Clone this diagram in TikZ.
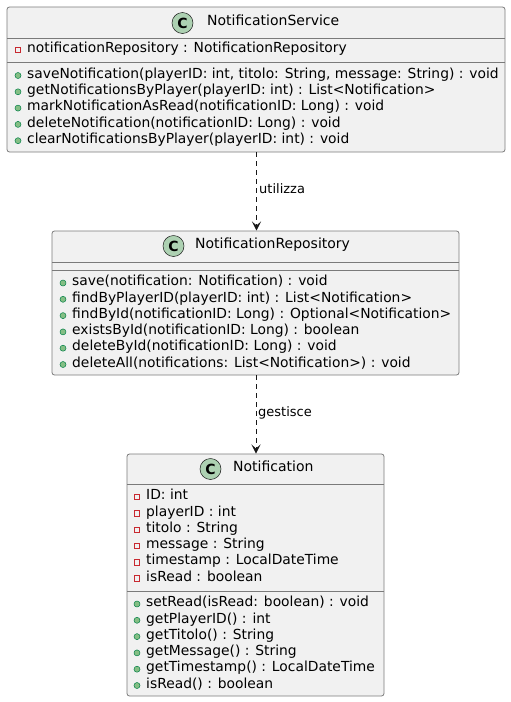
\documentclass[tikz,border=0pt]{standalone}
\usepackage{fontspec}
\setmainfont{DejaVu Sans}
\usetikzlibrary{arrows.meta}
\definecolor{bg}{HTML}{F1F1F1}
\definecolor{lc}{HTML}{181818}
\definecolor{bordc}{HTML}{7A7A7A}
\definecolor{spotc}{HTML}{ADD1B2}
\definecolor{privc}{HTML}{C82930}
\definecolor{pubf}{HTML}{84BE84}
\definecolor{pubd}{HTML}{038048}
\tikzset{
  cls/.style={draw=bordc, fill=bg, rounded corners=2.5pt, line width=0.8pt, inner sep=0pt},
  sepline/.style={draw=bordc, line width=0.8pt},
  ctxt/.style={anchor=mid west, inner sep=0pt, font=\fontsize{13.85}{16}\selectfont},
  cname/.style={anchor=mid west, inner sep=0pt, font=\fontsize{14}{16}\selectfont},
  priv/.style={draw=privc, line width=0.7pt, minimum size=5.5pt, inner sep=0pt},
  pub/.style={circle, draw=pubd, line width=0.5pt, fill=pubf, minimum size=6pt, inner sep=0pt},
  spot/.style={circle, draw=lc, line width=0.5pt, fill=spotc, minimum size=21pt, inner sep=0pt, font=\fontsize{14}{16}\selectfont\bfseries},
  dep/.style={draw=lc, line width=0.8pt, dash pattern=on 5pt off 4pt, -{Stealth[length=9pt, width=9pt, inset=4pt]}},
  lbl/.style={anchor=mid west, inner sep=0pt, font=\fontsize{13}{15}\selectfont},
}
\begin{document}
\begin{tikzpicture}[x=1pt, y=-1pt]
\useasboundingbox (0,0) rectangle (511,702);

% ---------- NotificationService ----------
\node[cls, minimum width=498pt, minimum height=145pt] (svc) at (256,79.5) {};
\draw[sepline] (7,38) -- (505,38);
\draw[sepline] (7,62) -- (505,62);
\node[spot] (svcspot) at (182.5,23) {C};
\node[cname] (svcname) at (207,23) {NotificationService};
\node[priv] (sa1i) at (18,50) {};
\node[ctxt] (sa1) at (27,50) {notificationRepository : NotificationRepository};
\node[pub] (sm1i) at (18,75.5) {};
\node[ctxt] (sm1) at (27,75.5) {saveNotification(playerID: int, titolo: String, message: String) : void};
\node[pub] (sm2i) at (18,91.8) {};
\node[ctxt] (sm2) at (27,91.8) {getNotificationsByPlayer(playerID: int) : List<Notification>};
\node[pub] (sm3i) at (18,108.1) {};
\node[ctxt] (sm3) at (27,108.1) {markNotificationAsRead(notificationID: Long) : void};
\node[pub] (sm4i) at (18,124.4) {};
\node[ctxt] (sm4) at (27,124.4) {deleteNotification(notificationID: Long) : void};
\node[pub] (sm5i) at (18,140.7) {};
\node[ctxt] (sm5) at (27,140.7) {clearNotificationsByPlayer(playerID: int) : void};

% ---------- NotificationRepository ----------
\node[cls, minimum width=407pt, minimum height=144pt] (repo) at (255.5,303) {};
\draw[sepline] (52,262) -- (459,262);
\draw[sepline] (52,270) -- (459,270);
\node[spot] (repospot) at (173.5,246) {C};
\node[cname] (reponame) at (195,246) {NotificationRepository};
\node[pub] (rm1i) at (63,283) {};
\node[ctxt] (rm1) at (72,283) {save(notification: Notification) : void};
\node[pub] (rm2i) at (63,299.3) {};
\node[ctxt] (rm2) at (72,299.3) {findByPlayerID(playerID: int) : List<Notification>};
\node[pub] (rm3i) at (63,315.6) {};
\node[ctxt] (rm3) at (72,315.6) {findById(notificationID: Long) : Optional<Notification>};
\node[pub] (rm4i) at (63,331.9) {};
\node[ctxt] (rm4) at (72,331.9) {existsById(notificationID: Long) : boolean};
\node[pub] (rm5i) at (63,348.2) {};
\node[ctxt] (rm5) at (72,348.2) {deleteById(notificationID: Long) : void};
\node[pub] (rm6i) at (63,364.5) {};
\node[ctxt] (rm6) at (72,364.5) {deleteAll(notifications: List<Notification>) : void};

% ---------- Notification ----------
\node[cls, minimum width=257pt, minimum height=242pt] (notif) at (255.5,575) {};
\draw[sepline] (127,484) -- (384,484);
\draw[sepline] (127,591) -- (384,591);
\node[spot] (notifspot) at (210.5,469) {C};
\node[cname] (notifname) at (233,469) {Notification};
\node[priv] (na1i) at (137,497) {};
\node[ctxt] (na1) at (146,497) {ID: int};
\node[priv] (na2i) at (137,513.3) {};
\node[ctxt] (na2) at (146,513.3) {playerID : int};
\node[priv] (na3i) at (137,529.6) {};
\node[ctxt] (na3) at (146,529.6) {titolo : String};
\node[priv] (na4i) at (137,545.9) {};
\node[ctxt] (na4) at (146,545.9) {message : String};
\node[priv] (na5i) at (137,562.2) {};
\node[ctxt] (na5) at (146,562.2) {timestamp : LocalDateTime};
\node[priv] (na6i) at (137,578.5) {};
\node[ctxt] (na6) at (146,578.5) {isRead : boolean};
\node[pub] (nm1i) at (137,604) {};
\node[ctxt] (nm1) at (146,604) {setRead(isRead: boolean) : void};
\node[pub] (nm2i) at (137,620.3) {};
\node[ctxt] (nm2) at (146,620.3) {getPlayerID() : int};
\node[pub] (nm3i) at (137,636.6) {};
\node[ctxt] (nm3) at (146,636.6) {getTitolo() : String};
\node[pub] (nm4i) at (137,652.9) {};
\node[ctxt] (nm4) at (146,652.9) {getMessage() : String};
\node[pub] (nm5i) at (137,669.2) {};
\node[ctxt] (nm5) at (146,669.2) {getTimestamp() : LocalDateTime};
\node[pub] (nm6i) at (137,685.5) {};
\node[ctxt] (nm6) at (146,685.5) {isRead() : boolean};

% ---------- connectors ----------
\coordinate (a1s) at (256.5,152);
\coordinate (a1e) at (256.5,230.5);
\draw[dep] (a1s) -- (a1e);
\node[lbl] (l1) at (259,191) {utilizza};
\coordinate (a2s) at (256,375);
\coordinate (a2e) at (256,453.5);
\draw[dep] (a2s) -- (a2e);
\node[lbl] (l2) at (258,414) {gestisce};
\end{tikzpicture}
\end{document}
